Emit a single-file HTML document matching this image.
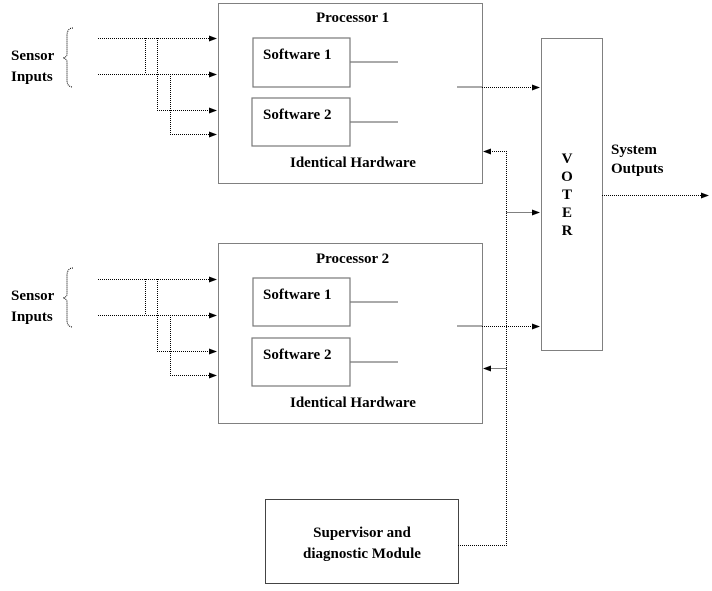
<!DOCTYPE html>
<html><head><style>
body{margin:0;background:#fff;width:712px;height:586px;overflow:hidden}
text{font-family:"Liberation Serif",serif;font-weight:bold;font-size:15px;fill:#000}
</style></head><body>
<svg width="712" height="586" viewBox="0 0 712 586">
<defs><marker id="a" markerWidth="8" markerHeight="6" refX="7" refY="3" orient="auto" markerUnits="userSpaceOnUse"><path d="M0,0L8,3L0,6z" fill="#000"/></marker></defs>
<g fill="none" stroke="#000" stroke-width="1" stroke-dasharray="1,1">
<rect x="218.5" y="3.5" width="264" height="180"/>
<rect x="218.5" y="243.5" width="264" height="180"/>
<rect x="541.5" y="38.5" width="61" height="312"/>
<rect x="265.5" y="499.5" width="193" height="84" stroke-dasharray="none" stroke="#444"/>
</g>
<g fill="none" stroke="#777" stroke-width="1.2">
<rect x="253" y="38" width="97" height="49"/>
<rect x="252" y="98" width="98" height="48"/>
<rect x="253" y="278" width="97" height="48"/>
<rect x="252" y="338" width="98" height="48"/>
<path d="M350 62H398M350 122H398M457 87H482M350 302H398M350 362H398M457 326H482"/>
</g>
<g fill="none" stroke="#000" stroke-width="1" stroke-dasharray="1,1">
<path d="M98 38.5H216" marker-end="url(#a)"/><path d="M98 74.5H216" marker-end="url(#a)"/>
<path d="M157.5 38V110.5H216" marker-end="url(#a)"/><path d="M170.5 74V134.5H216" marker-end="url(#a)"/>
<path d="M145.5 38V74"/>
<path d="M98 279.5H216" marker-end="url(#a)"/><path d="M98 315.5H216" marker-end="url(#a)"/>
<path d="M157.5 279V351.5H216" marker-end="url(#a)"/><path d="M170.5 315V375.5H216" marker-end="url(#a)"/>
<path d="M145.5 279V315"/>
<path d="M482 87.5H539" marker-end="url(#a)"/><path d="M482 326.5H539" marker-end="url(#a)"/>
<path d="M602 195.5H708" marker-end="url(#a)"/>
<path d="M458 545.5H506.5V151.5H484" marker-end="url(#a)"/>
<path d="M506.5 368.5H484" marker-end="url(#a)"/>
<path d="M506.5 212.5H539" marker-end="url(#a)"/>
<path d="M73 28Q67 28 67 36V54Q67 57 63 58Q67 59 67 62V80Q67 87 73 87"/>
<path d="M73 268Q67 268 67 276V294Q67 297 63 298Q67 299 67 302V320Q67 327 73 327"/>
</g>
<text x="316" y="22">Processor 1</text>
<text x="263" y="59">Software  1</text>
<text x="263" y="119">Software  2</text>
<text x="290" y="167">Identical Hardware</text>
<text x="316" y="263">Processor 2</text>
<text x="263" y="299">Software  1</text>
<text x="263" y="359">Software  2</text>
<text x="290" y="407">Identical Hardware</text>
<text x="11" y="60">Sensor</text><text x="11" y="81">Inputs</text>
<text x="11" y="300">Sensor</text><text x="11" y="321">Inputs</text>
<text x="611" y="154">System</text><text x="611" y="173">Outputs</text>
<text x="567" y="163" text-anchor="middle">V</text>
<text x="567" y="181" text-anchor="middle">O</text>
<text x="567" y="199" text-anchor="middle">T</text>
<text x="567" y="217" text-anchor="middle">E</text>
<text x="567" y="235" text-anchor="middle">R</text>
<text x="362" y="537" text-anchor="middle">Supervisor and</text>
<text x="362" y="558" text-anchor="middle">diagnostic Module</text>
</svg>
</body></html>
